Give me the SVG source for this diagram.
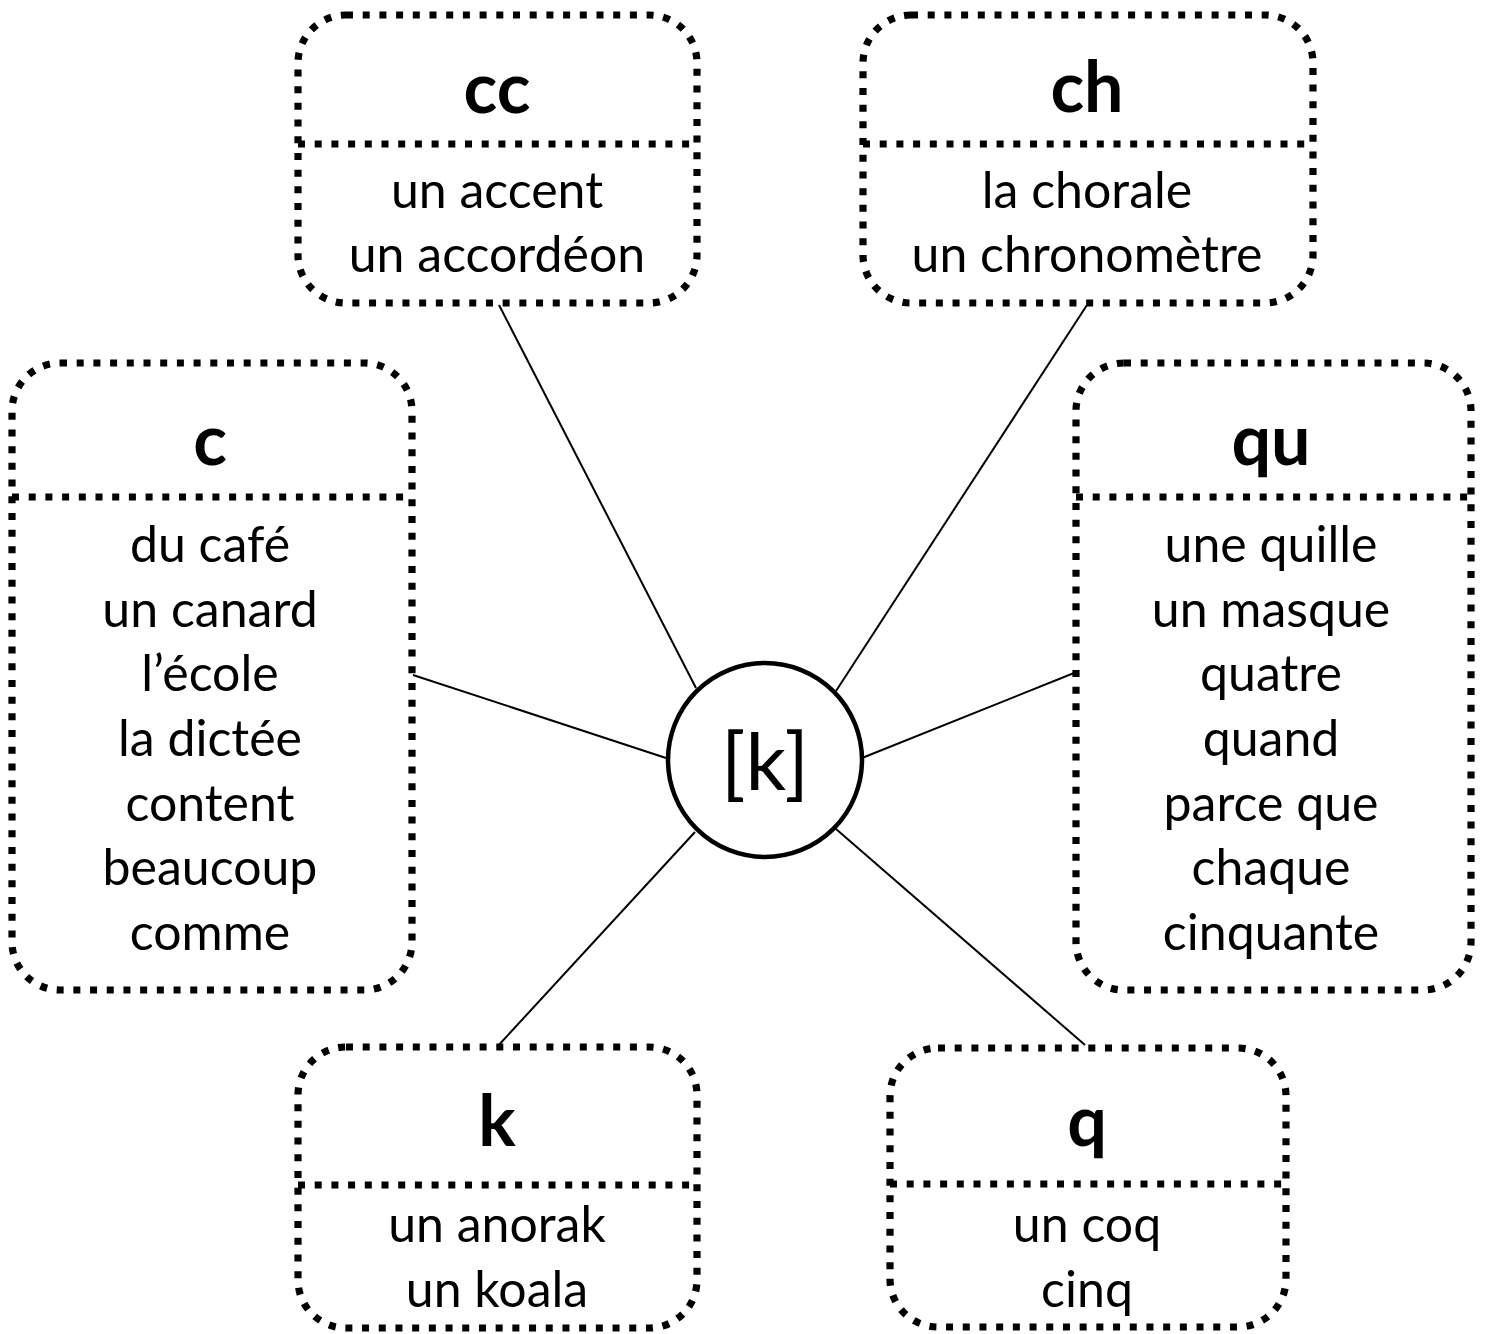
<svg xmlns="http://www.w3.org/2000/svg" width="1486" height="1334" viewBox="0 0 1486 1334">
<style>
.box{fill:none;stroke:#000;stroke-width:7.2;stroke-dasharray:7 9.7}
.div{stroke:#000;stroke-width:7.2;stroke-dasharray:7 9.7}
.hd{font-family:Lato,"Liberation Sans",sans-serif;font-weight:bold;font-size:70px;text-anchor:middle;fill:#000}
.tx{font-family:Lato,"Liberation Sans",sans-serif;font-size:50px;text-anchor:middle;fill:#000}
.ln{stroke:#000;stroke-width:2}
</style>
<rect width="1486" height="1334" fill="#fff"/>
<g id="connectors">
<line class="ln" x1="499" y1="305" x2="696" y2="688"/>
<line class="ln" x1="1087" y1="305" x2="836" y2="691"/>
<line class="ln" x1="413" y1="675" x2="666" y2="758"/>
<line class="ln" x1="1074" y1="673" x2="862" y2="758"/>
<line class="ln" x1="497" y1="1047" x2="695" y2="832"/>
<line class="ln" x1="1085" y1="1045" x2="836" y2="829"/>
</g>
<g id="center">
<circle cx="765" cy="760" r="97" fill="#fff" stroke="#000" stroke-width="4.5"/>
<text x="765" y="790" style="font-family:Lato,'Liberation Sans',sans-serif;font-size:80px;text-anchor:middle">[k]</text>
</g>
<g id="node-cc">
<rect class="box" x="298" y="15" width="399" height="288" rx="48"/>
<line class="div" x1="298" y1="144" x2="697" y2="144"/>
<text class="hd" x="497" y="113">cc</text>
<text class="tx" x="497" y="208">un accent</text>
<text class="tx" x="497" y="272">un accordéon</text>
</g>
<g id="node-ch">
<rect class="box" x="863" y="15" width="450" height="288" rx="48"/>
<line class="div" x1="863" y1="144" x2="1313" y2="144"/>
<text class="hd" x="1087" y="112">ch</text>
<text class="tx" x="1087" y="208">la chorale</text>
<text class="tx" x="1087" y="272">un chronomètre</text>
</g>
<g id="node-c">
<rect class="box" x="12" y="363" width="400" height="627" rx="48"/>
<line class="div" x1="12" y1="497" x2="412" y2="497"/>
<text class="hd" x="210" y="465">c</text>
<text class="tx" x="210" y="562">du café</text>
<text class="tx" x="210" y="627">un canard</text>
<text class="tx" x="210" y="691">l’école</text>
<text class="tx" x="210" y="756">la dictée</text>
<text class="tx" x="210" y="821">content</text>
<text class="tx" x="210" y="885">beaucoup</text>
<text class="tx" x="210" y="950">comme</text>
</g>
<g id="node-qu">
<rect class="box" x="1076" y="363" width="395" height="627" rx="48"/>
<line class="div" x1="1076" y1="497" x2="1471" y2="497"/>
<text class="hd" x="1271" y="465">qu</text>
<text class="tx" x="1271" y="562">une quille</text>
<text class="tx" x="1271" y="627">un masque</text>
<text class="tx" x="1271" y="691">quatre</text>
<text class="tx" x="1271" y="756">quand</text>
<text class="tx" x="1271" y="821">parce que</text>
<text class="tx" x="1271" y="885">chaque</text>
<text class="tx" x="1271" y="950">cinquante</text>
</g>
<g id="node-k">
<rect class="box" x="298" y="1047" width="399" height="281" rx="48"/>
<line class="div" x1="298" y1="1185" x2="697" y2="1185"/>
<text class="hd" x="497" y="1146">k</text>
<text class="tx" x="497" y="1242">un anorak</text>
<text class="tx" x="497" y="1307">un koala</text>
</g>
<g id="node-q">
<rect class="box" x="890" y="1048" width="396" height="279" rx="48"/>
<line class="div" x1="890" y1="1184" x2="1286" y2="1184"/>
<text class="hd" x="1087" y="1146">q</text>
<text class="tx" x="1087" y="1242">un coq</text>
<text class="tx" x="1087" y="1307">cinq</text>
</g>
</svg>
